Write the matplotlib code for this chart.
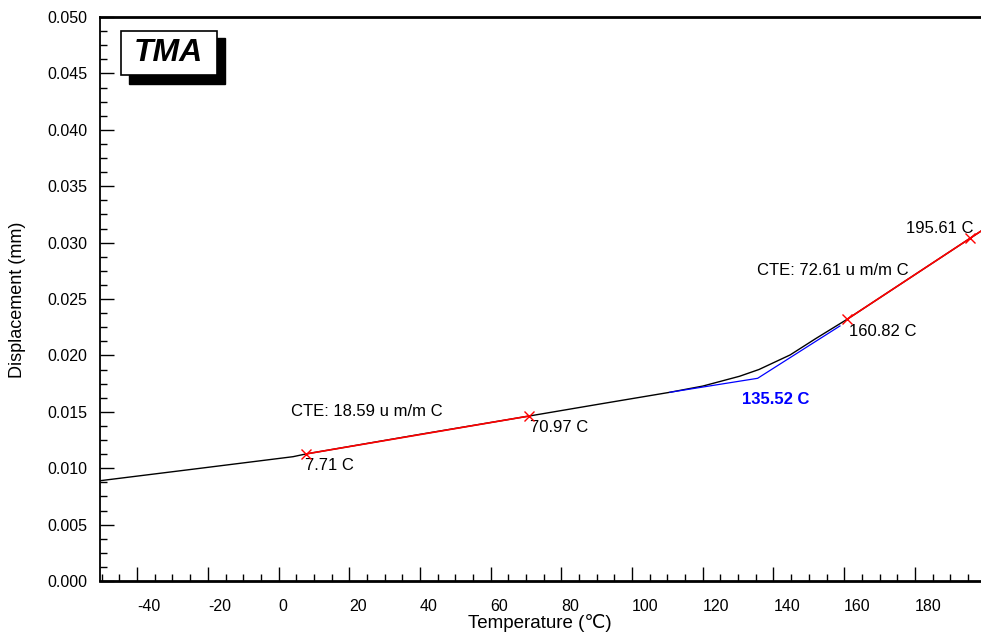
import matplotlib
matplotlib.use("Agg")
import matplotlib.pyplot as plt
from matplotlib.ticker import MultipleLocator, FormatStrFormatter
from matplotlib.patches import Rectangle

plt.rcParams['font.family'] = ['Liberation Sans', 'DejaVu Sans']
plt.rcParams['axes.unicode_minus'] = False

# measured TMA curve (temperature in C, displacement in mm)
temp = [-50.5, -22.2, 4.1, 7.71, 40.0, 70.97, 90.9, 110.7, 120.0, 130.4, 135.9, 144.7, 152.0, 160.82, 195.61, 198.6]
disp = [0.00889, 0.00999, 0.01102, 0.01126, 0.01300, 0.01463, 0.01569, 0.01673, 0.01728, 0.01815, 0.01875, 0.02004, 0.02150, 0.02320, 0.03038, 0.03100]

# CTE fit segments (red)
fit1_x = [7.71, 70.97]
fit1_y = [0.01126, 0.01463]
fit2_x = [160.82, 198.6]
fit2_y = [0.02320, 0.03100]

# onset tangents (blue)
tan_x = [110.7, 135.52, 158.8]
tan_y = [0.01673, 0.01797, 0.02261]

# marked points
mark_x = [7.71, 70.97, 160.82, 195.61]
mark_y = [0.01126, 0.01463, 0.02320, 0.03038]

xticks = [-40, -20, 0, 20, 40, 60, 80, 100, 120, 140, 160, 180]

W, H = 981, 635
fig = plt.figure(figsize=(W / 100, H / 100), dpi=100)
ax = fig.add_axes([100 / W, (H - 581) / H, 881 / W, 564 / H])

ax.plot(temp, disp, color='black', lw=1.0, zorder=2)
ax.plot(tan_x, tan_y, color='blue', lw=0.9, zorder=3)
ax.plot(fit1_x, fit1_y, color='red', lw=1.2, zorder=4)
ax.plot(fit2_x, fit2_y, color='red', lw=1.2, zorder=4)
ax.plot(mark_x, mark_y, linestyle='none', marker='x', color='red', ms=7, mew=1.0, zorder=5)

ax.set_xlim(-50.5, 198.7)
ax.set_ylim(0, 0.05)

ax.set_xticks(xticks)
ax.xaxis.set_minor_locator(MultipleLocator(5))
ax.yaxis.set_major_locator(MultipleLocator(0.005))
ax.yaxis.set_minor_locator(MultipleLocator(0.00125))
ax.yaxis.set_major_formatter(FormatStrFormatter('%.3f'))

ax.tick_params(which='both', direction='in', top=False, right=False, colors='black')
ax.tick_params(axis='x', which='major', length=10, width=1, pad=13, labelsize=11.5)
ax.tick_params(axis='x', which='minor', length=5, width=1)
ax.tick_params(axis='y', which='major', length=10, width=1, pad=9, labelsize=11.5)
ax.tick_params(axis='y', which='minor', length=5, width=1)
for lab in ax.get_xticklabels():
    lab.set_horizontalalignment('left')

ax.spines['left'].set_linewidth(1.3)
for s in ['bottom', 'top']:
    ax.spines[s].set_linewidth(2.0)
ax.spines['right'].set_visible(False)

fs = 12
ax.text(3.4, 0.0150, 'CTE: 18.59 u m/m C', fontsize=fs, ha='left', va='center')
ax.text(7.4, 0.0102, '7.71 C', fontsize=fs, ha='left', va='center')
ax.text(71.1, 0.01359, '70.97 C', fontsize=fs, ha='left', va='center')
ax.text(131.0, 0.01613, '135.52 C', fontsize=fs, ha='left', va='center', color='blue', fontweight='bold')
ax.text(161.3, 0.0221, '160.82 C', fontsize=fs, ha='left', va='center')
ax.text(135.2, 0.0275, 'CTE: 72.61 u m/m C', fontsize=fs, ha='left', va='center')
ax.text(177.6, 0.03127, '195.61 C', fontsize=fs, ha='left', va='center', clip_on=False)

# TMA box with shadow (figure pixel coordinates)
def px(x0, y0, x1, y1):
    return (x0 / W, 1 - y1 / H), (x1 - x0) / W, (y1 - y0) / H

xy, w, h = px(128.5, 38, 225, 84)
fig.patches.append(Rectangle(xy, w, h, transform=fig.transFigure, facecolor='black', edgecolor='black', zorder=10))
xy, w, h = px(120.7, 31, 216.5, 75.3)
fig.patches.append(Rectangle(xy, w, h, transform=fig.transFigure, facecolor='white', edgecolor='black', lw=1.2, zorder=11))
fig.text(168.5 / W, 1 - 53 / H, 'TMA', fontsize=23, fontweight='bold', fontstyle='italic',
         ha='center', va='center', zorder=12)

fig.text(540 / W, 1 - 623 / H, 'Temperature (℃)', fontsize=13.5, ha='center', va='center',
         family=['Liberation Sans', 'DejaVu Sans'])
fig.text(18 / W, 1 - 300 / H, 'Displacement (mm)', fontsize=13, ha='center', va='center', rotation=90)

fig.savefig('out.png', dpi=100)
